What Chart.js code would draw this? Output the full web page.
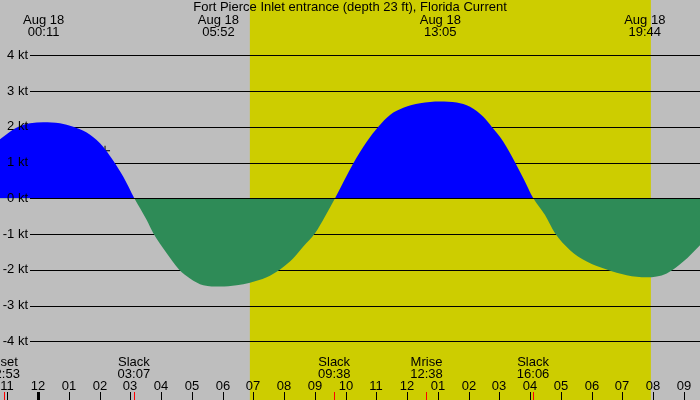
<!DOCTYPE html>
<html>
<head>
<meta charset="utf-8">
<title>Fort Pierce Inlet entrance current</title>
<script src="https://cdn.jsdelivr.net/npm/chart.js@4.4.1/dist/chart.umd.min.js"></script>
<style>
  html, body { margin: 0; padding: 0; background: #bebebe; }
  canvas { display: block; }
</style>
</head>
<body>
<canvas id="tide" width="700" height="400"></canvas>
<script>
// hours after midnight Aug 18 (negative = previous evening)
const hours = [-1.236, -0.911, -0.585, -0.260, 0.172, 0.715, 1.148, 1.584, 2.016, 2.449, 2.774, 3.132,
  3.535, 3.750, 4.185, 4.585, 4.943, 5.376, 5.919, 6.462, 6.894, 7.437, 7.870, 8.302, 8.628, 9.008,
  9.333, 9.659, 10.254, 10.690, 11.067, 11.447, 11.880, 12.423, 13.073, 13.616, 14.049, 14.481, 14.754,
  15.132, 15.512, 15.782, 16.107, 16.488, 16.813, 17.301, 17.844, 18.494, 19.145, 19.795, 20.445,
  20.985, 21.528];
// current speed in knots (flood positive, ebb negative)
const speeds = [1.65, 1.86, 2.02, 2.10, 2.13, 2.10, 2.00, 1.84, 1.54, 1.05, 0.60, 0.00,
  -0.61, -0.98, -1.54, -1.99, -2.24, -2.43, -2.47, -2.43, -2.36, -2.21, -1.99, -1.68, -1.35, -0.98,
  -0.51, 0.00, 0.98, 1.58, 2.00, 2.33, 2.53, 2.66, 2.71, 2.68, 2.56, 2.28, 2.00,
  1.58, 1.01, 0.56, 0.00, -0.47, -0.98, -1.45, -1.77, -1.99, -2.15, -2.21, -2.10,
  -1.77, -1.31];

const yTicks = [4, 3, 2, 1, 0, -1, -2, -3, -4];
const hourTicks = [-1, 0, 1, 2, 3, 4, 5, 6, 7, 8, 9, 10, 11, 12, 13, 14, 15, 16, 17, 18, 19, 20, 21];

// extremes shown along the top
const peakHours = [0.183, 5.867, 13.083, 19.733];
const peakTimes = ['00:11', '05:52', '13:05', '19:44'];

// slack / moon events along the bottom
const eventHours = [-1.117, 3.117, 9.633, 12.633, 16.1];
const eventNames = ['Mset', 'Slack', 'Slack', 'Mrise', 'Slack'];
const eventTimes = ['22:53', '03:07', '09:38', '12:38', '16:06'];

const daylight = [6.89, 19.93];
const nowMark = [{ x: 2.18, y: 1.33 }];

const FONT = '13px "Liberation Sans", Arial, sans-serif';

const backdrop = {
  id: 'backdrop',
  beforeDatasetsDraw(chart) {
    const { ctx, scales: { x, y }, width, height } = chart;
    ctx.save();
    ctx.fillStyle = '#bebebe';
    ctx.fillRect(0, 0, width, height);
    const d0 = x.getPixelForValue(daylight[0]);
    const d1 = x.getPixelForValue(daylight[1]);
    ctx.fillStyle = '#cdcd00';
    ctx.fillRect(d0, 0, d1 - d0, height);
    ctx.strokeStyle = '#000';
    ctx.lineWidth = 1;
    yTicks.forEach(v => {
      if (v === 0) return;
      const py = Math.round(y.getPixelForValue(v)) + 0.5;
      ctx.beginPath();
      ctx.moveTo(30, py);
      ctx.lineTo(width, py);
      ctx.stroke();
    });
    ctx.restore();
  },
  afterDatasetsDraw(chart) {
    const { ctx, scales: { x, y }, width } = chart;
    ctx.save();
    ctx.strokeStyle = '#000';
    ctx.lineWidth = 1;
    const zy = Math.round(y.getPixelForValue(0)) + 0.5;
    ctx.beginPath();
    ctx.moveTo(30, zy);
    ctx.lineTo(width, zy);
    ctx.stroke();

    ctx.font = FONT;
    ctx.fillStyle = '#000';
    ctx.textBaseline = 'middle';
    ctx.textAlign = 'right';
    yTicks.forEach(v => {
      ctx.fillText(v + ' kt', 28, y.getPixelForValue(v));
    });

    ctx.textAlign = 'center';
    ctx.fillText('Fort Pierce Inlet entrance (depth 23 ft), Florida Current', width / 2, 7);
    peakHours.forEach((h, i) => {
      const px = x.getPixelForValue(h);
      ctx.fillText('Aug 18', px, 20);
      ctx.fillText(peakTimes[i], px, 32);
    });

    eventHours.forEach((h, i) => {
      const px = x.getPixelForValue(h);
      ctx.fillText(eventNames[i], px, 362);
      ctx.fillText(eventTimes[i], px, 374);
    });

    hourTicks.forEach(h => {
      const px = Math.round(x.getPixelForValue(h));
      const hh = ((h % 12) + 12) % 12;
      ctx.fillText(String(hh === 0 ? 12 : hh).padStart(2, '0'), px, 386);
      if (h % 24 === 0) ctx.fillRect(px - 1, 392, 3, 8);
      else ctx.fillRect(px, 392, 1, 8);
    });
    ctx.fillStyle = '#ff0000';
    eventHours.forEach(h => {
      const px = Math.round(x.getPixelForValue(h));
      ctx.fillRect(px, 392, 1, 8);
    });
    ctx.restore();
  }
};

new Chart(document.getElementById('tide'), {
  type: 'line',
  data: {
    datasets: [
      {
        data: hours.map((h, i) => ({ x: h, y: speeds[i] })),
        borderWidth: 0,
        borderColor: 'rgba(0,0,0,0)',
        pointRadius: 0,
        cubicInterpolationMode: 'monotone',
        fill: { target: { value: 0 }, above: '#0000ff', below: '#2e8b57' }
      },
      {
        type: 'scatter',
        data: nowMark,
        pointStyle: 'cross',
        pointRadius: 5,
        borderColor: '#000',
        borderWidth: 1
      }
    ]
  },
  options: {
    responsive: false,
    animation: false,
    devicePixelRatio: 1,
    layout: { padding: 0, autoPadding: false },
    plugins: { legend: { display: false }, tooltip: { enabled: false } },
    scales: {
      x: { type: 'linear', min: -1.236, max: 21.528, display: false },
      y: { min: -5.642, max: 5.547, display: false }
    }
  },
  plugins: [backdrop]
});
</script>
</body>
</html>
